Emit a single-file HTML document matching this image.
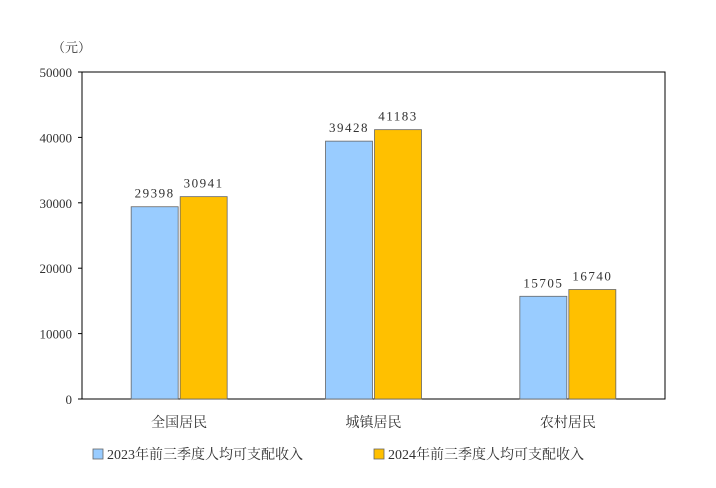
<!DOCTYPE html>
<html><head><meta charset="utf-8"><style>
body{margin:0;background:#fff;}
svg text{font-family:"Liberation Serif","Noto Serif CJK SC",serif;fill:#333;}
</style></head><body>
<svg width="716" height="483">
<g id="g"></g>
</svg>
<script>
const categories=["全国居民","城镇居民","农村居民"];
const series2023=[29398,39428,15705];
const series2024=[30941,41183,16740];
const ticks=[0,10000,20000,30000,40000,50000];
const seriesNames=["2023年前三季度人均可支配收入","2024年前三季度人均可支配收入"];
const NS="http://www.w3.org/2000/svg";
const g=document.getElementById('g');
const L=82,R=665,T=72,B=399,max=50000;
const y=v=>B-(v/max)*(B-T);
const cw=(R-L)/categories.length;
const xc=i=>L+cw*(i+0.5);
function mk(t,a,txt){const e=document.createElementNS(NS,t);for(const k in a)e.setAttribute(k,a[k]);if(txt!=null)e.textContent=txt;g.appendChild(e);return e;}
const frame=mk('rect',{x:L,y:T,width:R-L,height:B-T,fill:'none',stroke:'#000','stroke-width':1});


const unit=mk('text',{x:52,y:52,'font-size':13},'（元）');


ticks.forEach(t=>{
 const l=mk('line',{x1:L-4,x2:L,y1:y(t),y2:y(t),stroke:'#000'});
 
 
 const tx=mk('text',{x:L-10,y:y(t)+5,'font-size':13,'text-anchor':'end'},String(t));
 
 
});
const colors=["#99CCFF","#FFC000"];
const bw=47;
categories.forEach((c,i)=>{
 [series2023,series2024].forEach((s,j)=>{
  const x=xc(i)-bw-1+j*(bw+2);
  const r=mk('rect',{x:x,y:y(s[i]),width:bw,height:B-y(s[i]),fill:colors[j],stroke:'#666','stroke-width':0.8});
  
  
  const v=mk('text',{x:x+bw/2,y:y(s[i])-9,'font-size':13,'text-anchor':'middle','letter-spacing':'1.5'},String(s[i]));
  
  
 });
 const cl=mk('text',{x:xc(i),y:427,'font-size':14,'text-anchor':'middle'},c);
 
 
});
const lx=[93,374];
seriesNames.forEach((n,j)=>{
 const s=mk('rect',{x:lx[j],y:449,width:10,height:10,fill:colors[j],stroke:'#666','stroke-width':0.8});
 
 
 const t=mk('text',{x:lx[j]+14,y:459,'font-size':14},n);
 
 
});
</script>
</body></html>
